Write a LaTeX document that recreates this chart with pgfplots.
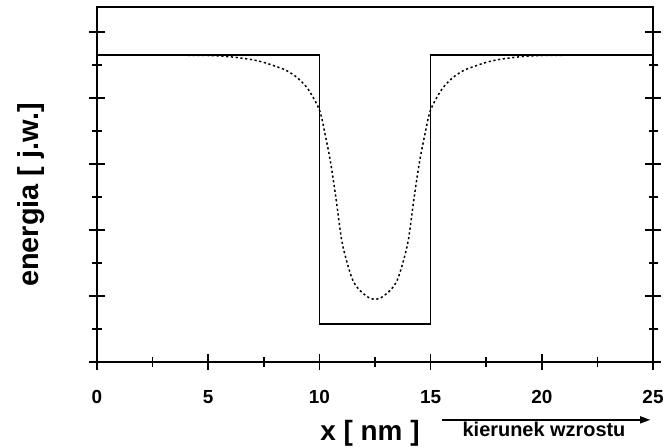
\documentclass[border=0pt]{standalone}
\usepackage{pgfplots}
\pgfplotsset{compat=1.18}
\usepackage{fontspec}
\setmainfont{Liberation Sans}
\usetikzlibrary{arrows.meta}

% quantum well profile: abrupt well and smoothed (interdiffused) well
\pgfplotstableread{
x y
0 4.65
10 4.65
10 0.58
15 0.58
15 4.65
25 4.65
}\wellsharp

\pgfplotstableread{
x y
0 4.650
3 4.650
5 4.645
6 4.625
7 4.580
7.5 4.540
8 4.485
8.5 4.420
9 4.310
9.5 4.130
10 3.820
10.25 3.460
10.5 3.030
10.75 2.470
11 1.850
11.25 1.500
11.5 1.240
11.75 1.110
12 1.030
12.25 0.970
12.5 0.950
12.75 0.970
13 1.030
13.25 1.110
13.5 1.240
13.75 1.500
14 1.850
14.25 2.470
14.5 3.030
14.75 3.460
15 3.820
15.5 4.130
16 4.310
16.5 4.420
17 4.485
17.5 4.540
18 4.580
19 4.625
20 4.645
22 4.650
25 4.650
}\wellsmooth

\begin{document}
\begin{tikzpicture}
\useasboundingbox (0,0) rectangle (668bp,448bp);
\begin{axis}[
  at={(97bp,86bp)}, anchor=south west,
  scale only axis, width=556bp, height=355bp,
  xmin=0, xmax=25, ymin=0, ymax=5.38,
  xtick={0,5,...,25}, minor x tick num=1,
  ytick={0,1,...,5}, minor y tick num=1,
  yticklabels={},
  xtick pos=bottom, ytick pos=both,
  tick align=center,
  major tick length=16bp, minor tick length=9bp,
  every tick/.style={black, line width=1.5pt},
  axis line style={line width=1.6pt},
  /pgf/number format/assume math mode=true,
  xticklabel style={font=\fontsize{19}{22}\selectfont\bfseries, anchor=base, yshift=-33bp},
  clip=false,
]
\addplot[black, line width=1.7pt] table {\wellsharp};
\addplot[black, line width=1.5pt, dash pattern=on 2.2pt off 2.6pt, smooth] table {\wellsmooth};

\node[rotate=90, font=\fontsize{29}{32}\selectfont\bfseries] at (rel axis cs:-0.119,0.47) {energia [ j.w.]};
\node[anchor=base, font=\fontsize{28}{32}\selectfont\bfseries] at (rel axis cs:0.491,-0.22) {x [ nm ]};
\draw[line width=1.3pt, -{Triangle[length=10bp,width=7bp]}] (rel axis cs:0.621,-0.163) -- (rel axis cs:0.995,-0.163);
\node[anchor=base, font=\fontsize{20}{24}\selectfont\bfseries] at (rel axis cs:0.804,-0.211) {kierunek wzrostu};
\end{axis}
\end{tikzpicture}
\end{document}
